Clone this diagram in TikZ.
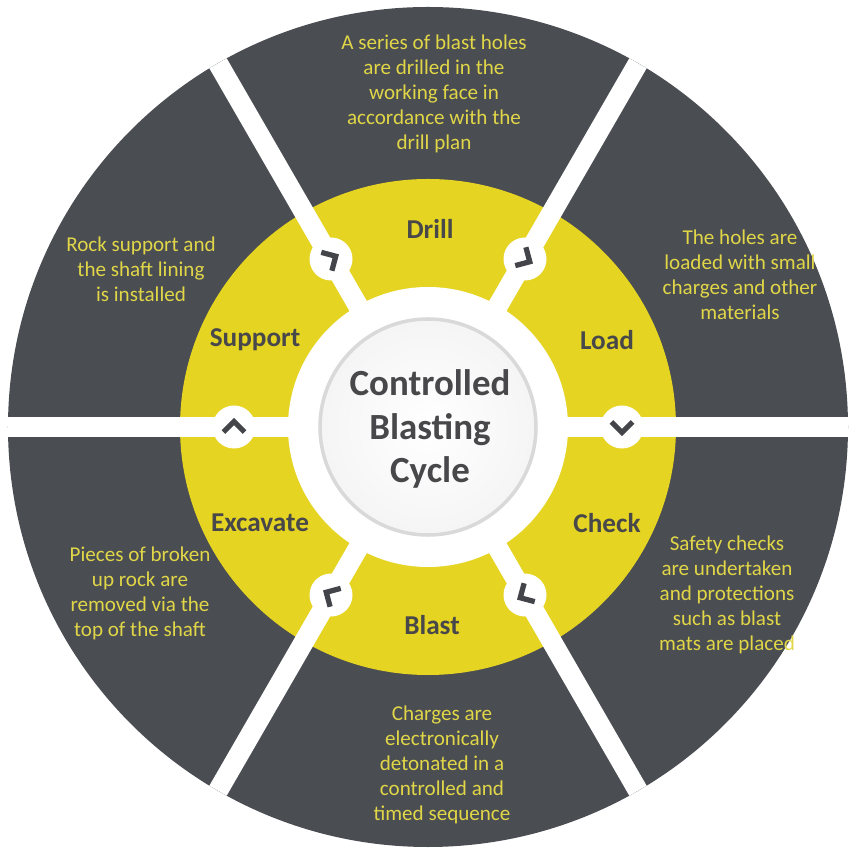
\documentclass[tikz,border=0pt]{standalone}
\usepackage{fontspec}
\setmainfont{Carlito}
\usepackage{xcolor}
\usepackage{tikz}
\usetikzlibrary{positioning, calc}
\definecolor{rockgrey}{RGB}{74,77,82}
\definecolor{blastyellow}{RGB}{229,212,34}
\definecolor{notetext}{RGB}{224,214,72}
\definecolor{stagetext}{RGB}{72,72,74}

\tikzset{
  note/.style={text=notetext, align=center, inner sep=0pt,
    font=\fontsize{12}{14.2}\selectfont},
  stage/.style={text=stagetext, inner sep=0pt,
    font=\fontsize{15.5}{18}\selectfont\bfseries},
  gap/.style={white, line width=0.4cm},
  turn/.style={draw=rockgrey!90!black, line width=3pt}
}

\begin{document}
\begin{tikzpicture}
\useasboundingbox (-8.56,-8.5) rectangle (8.44,8.54);

% outer ring, yellow ring and the white hole
\fill[rockgrey] (0,0) circle (8.4);
\fill[blastyellow] (0,0) circle (4.96);
\fill[white] (0,0) circle (2.8);

% white gaps between the steps, with a turn marker on each
\foreach \a in {0,60,...,300} {
  \draw[gap] (0,0) -- (\a:8.4);
  \fill[white] (\a:3.88) circle (0.43);
  \coordinate (tip\a) at ($(\a:3.88)+(\a-90:0.11)$);
  \draw[turn] ($(tip\a)+(\a+45:0.3)$) -- (tip\a) -- ($(tip\a)+(\a+135:0.3)$);
}

% hub
\node[circle, minimum size=4.32cm, inner color=white, outer color=gray!8,
  draw=gray!30, line width=2pt] (hub) at (0,0) {};
\node[text=stagetext, align=center, font=\fontsize{21}{25}\selectfont\bfseries]
  (title) at (0.04,-0.04) {Controlled\\Blasting\\Cycle};

% step names
\node[stage] (drill) at (0.04,3.96) {Drill};
\node[stage] (load) at (3.58,1.74) {Load};
\node[stage] (check) at (3.58,-1.92) {Check};
\node[stage] (blast) at (0.08,-3.96) {Blast};
\node[stage] (excavate) at (-3.36,-1.92) {Excavate};
\node[stage] (support) at (-3.46,1.74) {Support};

% step notes
\node[note] (drillnote) at (0.12,6.66)
  {A series of blast holes\\are drilled in the\\working face in\\accordance with the\\drill plan};
\node[note] (loadnote) at (6.24,3.04)
  {The holes are\\loaded with small\\charges and other\\materials};
\node[note] (checknote) at (5.98,-3.36)
  {Safety checks\\are undertaken\\and protections\\such as blast\\mats are placed};
\node[note] (blastnote) at (0.28,-6.76)
  {Charges are\\electronically\\detonated in a\\controlled and\\timed sequence};
\node[note] (excavatenote) at (-5.76,-3.32)
  {Pieces of broken\\up rock are\\removed via the\\top of the shaft};
\node[note] (supportnote) at (-5.74,3.16)
  {Rock support and\\the shaft lining\\is installed};
\end{tikzpicture}
\end{document}
